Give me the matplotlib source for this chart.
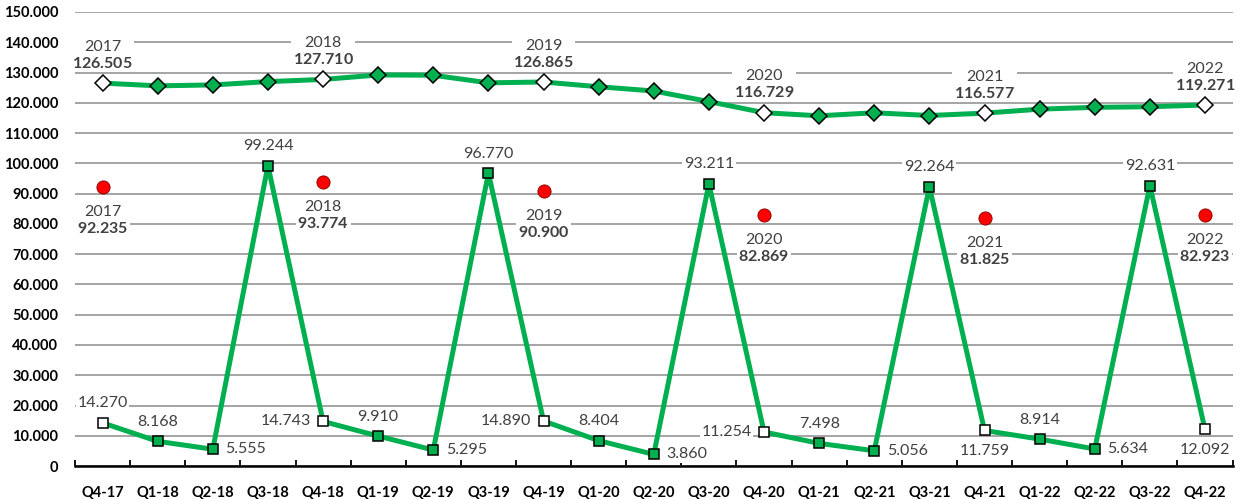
import matplotlib
matplotlib.use("Agg")
import matplotlib.pyplot as plt
from matplotlib.ticker import MultipleLocator, FuncFormatter

plt.rcParams["font.family"] = ["Lato", "DejaVu Sans"]
plt.rcParams["mathtext.fontset"] = "custom"
plt.rcParams["mathtext.rm"] = "Lato"
plt.rcParams["mathtext.bf"] = "Lato:bold"

quarters = ["Q4-17", "Q1-18", "Q2-18", "Q3-18", "Q4-18", "Q1-19", "Q2-19", "Q3-19",
            "Q4-19", "Q1-20", "Q2-20", "Q3-20", "Q4-20", "Q1-21", "Q2-21", "Q3-21",
            "Q4-21", "Q1-22", "Q2-22", "Q3-22", "Q4-22"]

# upper series (thousands)
stock = [126.505, 125.6, 125.9, 127.0, 127.710, 129.2, 129.1, 126.6, 126.865, 125.3,
         123.9, 120.4, 116.729, 115.7, 116.7, 115.8, 116.577, 117.9, 118.5, 118.7, 119.271]

# quarterly flow series (thousands)
flow = [14.270, 8.168, 5.555, 99.244, 14.743, 9.910, 5.295, 96.770, 14.890, 8.404,
        3.860, 93.211, 11.254, 7.498, 5.056, 92.264, 11.759, 8.914, 5.634, 92.631, 12.092]
flow_labels = ["14.270", "8.168", "5.555", "99.244", "14.743", "9.910", "5.295", "96.770",
               "14.890", "8.404", "3.860", "93.211", "11.254", "7.498", "5.056", "92.264",
               "11.759", "8.914", "5.634", "92.631", "12.092"]
flow_label_pos = ["above", "above", "right", "above", "left", "above", "right", "above",
                  "left", "above", "right", "above", "left", "above", "right", "above",
                  "below", "above", "right", "above", "below"]

# annual values at Q4
years = ["2017", "2018", "2019", "2020", "2021", "2022"]
annual_idx = [0, 4, 8, 12, 16, 20]
annual_stock_labels = ["126.505", "127.710", "126.865", "116.729", "116.577", "119.271"]
annual_red = [92.235, 93.774, 90.900, 82.869, 81.825, 82.923]
annual_red_labels = ["92.235", "93.774", "90.900", "82.869", "81.825", "82.923"]

GREEN = "#00B050"
LABEL = "#404040"

fig = plt.figure(figsize=(12.42, 4.99), dpi=100)
ax = fig.add_axes([0.0604, 0.066, 0.932, 0.910])

x = list(range(len(quarters)))
q4 = [i for i in x if i in annual_idx]
other = [i for i in x if i not in annual_idx]

ax.plot(x, stock, color=GREEN, lw=3.6, zorder=3)
ax.plot(other, [stock[i] for i in other], ls="none", marker="D", ms=8,
        mfc=GREEN, mec="black", mew=1.1, zorder=4)
ax.plot(q4, [stock[i] for i in q4], ls="none", marker="D", ms=8,
        mfc="white", mec="black", mew=1.1, zorder=4)

ax.plot(x, flow, color=GREEN, lw=3.6, zorder=3)
ax.plot(other, [flow[i] for i in other], ls="none", marker="s", ms=7.5,
        mfc=GREEN, mec="black", mew=1.1, zorder=4)
ax.plot(q4, [flow[i] for i in q4], ls="none", marker="s", ms=7.5,
        mfc="white", mec="black", mew=1.1, zorder=4)

ax.plot(annual_idx, annual_red, ls="none", marker="o", ms=9.5,
        mfc="#FF0000", mec="#7f0000", mew=0.6, zorder=4)

box = dict(boxstyle="square,pad=0.1", fc="white", ec="none")
fs = 10.5
lfs = 11.5

for k, i in enumerate(annual_idx):
    ax.annotate(years[k] + "\n$\\mathbf{" + annual_stock_labels[k] + "}$",
                (i, stock[i]), xytext=(0, 9), textcoords="offset points",
                ha="center", va="bottom", fontsize=lfs, color=LABEL,
                linespacing=1.15, bbox=box, zorder=5)
    ax.annotate(years[k] + "\n$\\mathbf{" + annual_red_labels[k] + "}$",
                (i, annual_red[k]), xytext=(0, -13), textcoords="offset points",
                ha="center", va="top", fontsize=lfs, color=LABEL,
                linespacing=1.15, bbox=box, zorder=5)

offsets = {"above": ((0, 9), "center", "bottom"),
           "below": ((0, -10), "center", "top"),
           "left": ((-9, 0), "right", "center"),
           "right": ((9, 0), "left", "center")}
for i in x:
    off, ha, va = offsets[flow_label_pos[i]]
    ax.annotate(flow_labels[i], (i, flow[i]), xytext=off, textcoords="offset points",
                ha=ha, va=va, fontsize=lfs, color=LABEL, bbox=box, zorder=5)

ax.set_xlim(-0.5, len(quarters) - 0.5)
ax.set_ylim(0, 150)
ax.yaxis.set_major_locator(MultipleLocator(10))
ax.yaxis.set_major_formatter(FuncFormatter(lambda v, p: "0" if v == 0 else f"{v:.3f}"))
ax.grid(axis="y", color="#8c8c8c", lw=1.1, zorder=0)
ax.set_axisbelow(True)

ax.set_xticks(x)
ax.set_xticklabels(quarters, fontweight="bold", fontsize=fs)
ax.set_xticks([i - 0.5 for i in range(len(quarters) + 1)], minor=True)
ax.tick_params(axis="x", which="major", length=0, pad=14)
ax.tick_params(axis="x", which="minor", length=4, width=1.3, direction="in", color="black")
ax.tick_params(axis="y", length=0, pad=12, labelsize=fs)
for lbl in ax.get_yticklabels():
    lbl.set_fontweight("bold")

for side in ["left", "right", "top"]:
    ax.spines[side].set_visible(False)
ax.spines["bottom"].set_color("black")
ax.spines["bottom"].set_linewidth(1.8)
ax.spines["bottom"].set_zorder(6)

fig.savefig("out.png", dpi=100)
